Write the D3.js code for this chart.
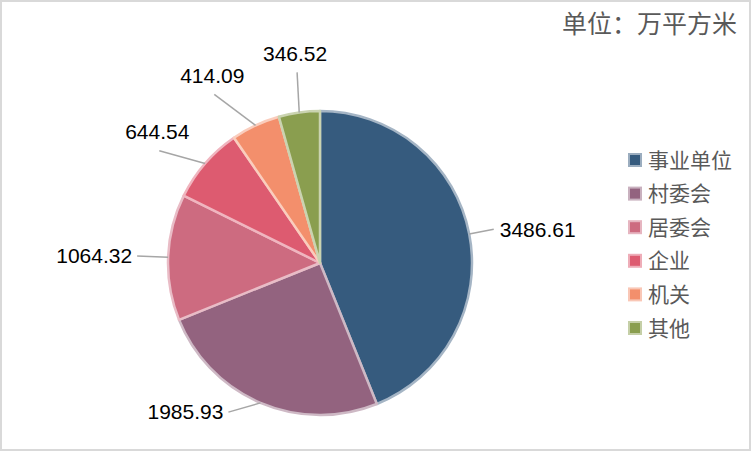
<!DOCTYPE html>
<html>
<head>
<meta charset="utf-8">
<script src="https://cdn.jsdelivr.net/npm/d3@7"></script>
<style>
	body { margin: 0; background: #fff; }
	svg { display: block; }
	text { font-family: "Noto Sans CJK SC", "Noto Sans", sans-serif; }
</style>
</head>
<body>
<div id="chart"></div>
<script>
var categories = ["事业单位", "村委会", "居委会", "企业", "机关", "其他"];
var values = [3486.61, 1985.93, 1064.32, 644.54, 414.09, 346.52];
var valueLabels = ["3486.61", "1985.93", "1064.32", "644.54", "414.09", "346.52"];
var unitTitle = "单位：万平方米";

var width = 752;
var height = 465;
var cx = 320, cy = 263, radius = 152;

var colors = ["#365b7e", "#93637f", "#cd6b80", "#dd5b70", "#f38f6c", "#8a9e4f"];
var color = d3.scaleOrdinal().domain(categories).range(colors);

// Excel spreads its labels a little, so each leader end gets a small nudge
// (degrees along the circle, extra distance beyond the rim)
var labelNudge = [[0, 25], [8.5, 23], [0, 31], [-6, 44], [-7, 47], [1, 40]];

var svg = d3.select("#chart").append("svg")
	.attr("width", width)
	.attr("height", height);

svg.append("rect")
	.attr("x", 1)
	.attr("y", 1)
	.attr("width", 749)
	.attr("height", 449)
	.attr("fill", "#fff")
	.attr("stroke", "#d9d9d9")
	.attr("stroke-width", 2);

svg.append("text")
	.text(unitTitle)
	.attr("x", 737)
	.attr("y", 33)
	.style("text-anchor", "end")
	.style("font-size", "25px")
	.style("fill", "#595959");

var pie = d3.pie().sort(null).value(function(d) { return d; });
var arcs = pie(values);
var arc = d3.arc().innerRadius(0).outerRadius(radius);

var g = svg.append("g")
	.attr("transform", "translate(" + cx + "," + cy + ")");

g.selectAll("path.slice")
	.data(arcs)
	.enter().append("path")
	.attr("class", "slice")
	.attr("d", arc)
	.attr("fill", function(d, i) { return color(categories[i]); })
	.attr("stroke", function(d, i) { return d3.interpolateRgb(color(categories[i]), "#fff")(0.55); })
	.attr("stroke-width", 2.5)
	.attr("stroke-linejoin", "round");

var polar = function(angle, r) {
	return [r * Math.sin(angle), -r * Math.cos(angle)];
};

arcs.forEach(function(d, i) {
	var mid = (d.startAngle + d.endAngle) / 2;
	var p0 = polar(mid, radius);
	var a1 = mid + labelNudge[i][0] * Math.PI / 180;
	var p1 = polar(a1, radius + labelNudge[i][1]);
	g.append("line")
		.attr("x1", p0[0]).attr("y1", p0[1])
		.attr("x2", p1[0]).attr("y2", p1[1])
		.style("stroke", "#a6a6a6")
		.style("stroke-width", 1.5);

	var s = Math.sin(a1), c = Math.cos(a1);
	var tx = p1[0], ty = p1[1], anchor = "middle";
	if (c > 0.5) {
		// upper labels sit on top of their leader
		ty -= 19;
		tx -= 2;
	} else {
		anchor = s > 0 ? "start" : "end";
		tx += s > 0 ? 6 : -5;
	}
	g.append("text")
		.text(valueLabels[i])
		.attr("x", tx)
		.attr("y", ty)
		.attr("dy", "0.35em")
		.style("text-anchor", anchor)
		.style("font-family", "'Liberation Sans', Arial, sans-serif")
		.style("font-size", "21px")
		.style("fill", "#000");
});

var legend = svg.append("g")
	.attr("transform", "translate(628, 160)");
categories.forEach(function(cat, i) {
	legend.append("rect")
		.attr("x", 1)
		.attr("y", i * 33.6 - 6)
		.attr("width", 12)
		.attr("height", 12)
		.attr("fill", color(cat))
		.attr("stroke", d3.interpolateRgb(color(cat), "#fff")(0.5))
		.attr("stroke-width", 2);
	legend.append("text")
		.text(cat)
		.attr("x", 20)
		.attr("y", i * 33.6)
		.attr("dy", "0.36em")
		.style("font-size", "21px")
		.style("fill", "#595959");
});
</script>
</body>
</html>
